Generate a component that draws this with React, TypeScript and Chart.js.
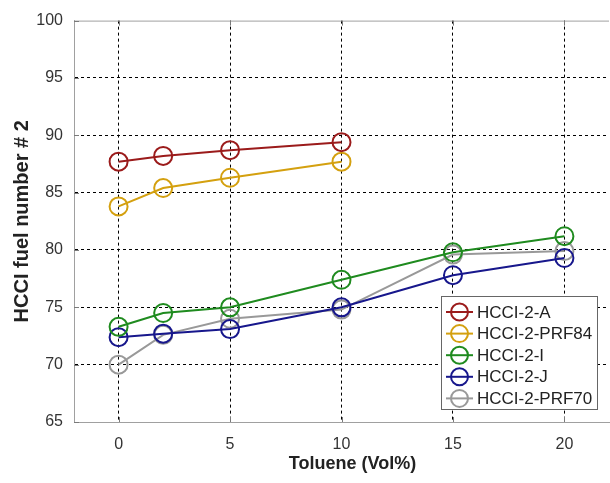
import React, { useEffect, useRef } from 'react';
import { Chart, registerables } from 'chart.js';

Chart.register(...registerables);

// ---- data ----
const tolueneA = [0, 2, 5, 10];
const toluene = [0, 2, 5, 10, 15, 20];
const seriesNames = ['HCCI-2-A', 'HCCI-2-PRF84', 'HCCI-2-I', 'HCCI-2-J', 'HCCI-2-PRF70'];
const hcci2A = [87.7, 88.2, 88.7, 89.4];
const hcci2PRF84 = [83.8, 85.4, 86.3, 87.7];
const hcci2I = [73.3, 74.5, 75.0, 77.4, 79.8, 81.2];
const hcci2J = [72.4, 72.7, 73.1, 75.0, 77.8, 79.3];
const hcci2PRF70 = [70.0, 72.6, 74.0, 74.8, 79.6, 79.9];
const seriesColors = ['#9b1b1b', '#d4a00f', '#1f8b1f', '#17178c', '#999999'];
const xRange = [-2, 22];
const yRange = [65, 100];
const xTitle = 'Toluene (Vol%)';
const yTitle = 'HCCI fuel number # 2';

const FONT = '"Liberation Sans", Arial, sans-serif';

const toPoints = (xs: number[], ys: number[]) => xs.map((x, i) => ({ x, y: ys[i] }));

const overlayPlugin = {
  id: 'overlay',
  afterDraw(chart: any) {
    const { ctx, chartArea } = chart;
    const xs = chart.scales.x;
    const ys = chart.scales.y;
    ctx.save();
    // top border of the axes box
    ctx.strokeStyle = '#a0a0a0';
    ctx.lineWidth = 1;
    ctx.beginPath();
    ctx.moveTo(chartArea.left, chartArea.top + 0.5);
    ctx.lineTo(chartArea.right, chartArea.top + 0.5);
    ctx.stroke();

    // inward tick marks
    ctx.strokeStyle = '#7a7a7a';
    ctx.beginPath();
    xs.ticks.forEach((t: any) => {
      const px = Math.round(xs.getPixelForValue(t.value)) + 0.5;
      ctx.moveTo(px, chartArea.bottom);
      ctx.lineTo(px, chartArea.bottom - 5);
      ctx.moveTo(px, chartArea.top);
      ctx.lineTo(px, chartArea.top + 5);
    });
    ys.ticks.forEach((t: any) => {
      const py = Math.round(ys.getPixelForValue(t.value)) + 0.5;
      ctx.moveTo(chartArea.left, py);
      ctx.lineTo(chartArea.left + 5, py);
    });
    ctx.stroke();

    // x title
    ctx.fillStyle = '#222';
    ctx.font = `bold 18px ${FONT}`;
    ctx.textAlign = 'center';
    ctx.textBaseline = 'middle';
    ctx.fillText(xTitle, xs.getPixelForValue(10) + 11, 464);

    // legend
    const lx = 441.5, ly = 296.5, lw = 156, lh = 113;
    ctx.fillStyle = '#ffffff';
    ctx.fillRect(lx, ly, lw, lh);
    ctx.strokeStyle = '#666';
    ctx.lineWidth = 1;
    ctx.strokeRect(lx, ly, lw, lh);
    ctx.font = `17px ${FONT}`;
    ctx.textAlign = 'left';
    ctx.textBaseline = 'middle';
    seriesNames.forEach((name, i) => {
      const cy = 312 + i * 21.6;
      ctx.strokeStyle = seriesColors[i];
      ctx.lineWidth = 2;
      ctx.beginPath();
      ctx.moveTo(446, cy);
      ctx.lineTo(473, cy);
      ctx.stroke();
      ctx.beginPath();
      ctx.arc(459.5, cy, 8.5, 0, Math.PI * 2);
      ctx.stroke();
      ctx.fillStyle = '#222';
      ctx.fillText(name, 477, cy + 1);
    });
    ctx.restore();
  },
};

export default function App() {
  const ref = useRef<HTMLCanvasElement | null>(null);

  useEffect(() => {
    if (!ref.current) return;
    const series = [
      toPoints(tolueneA, hcci2A),
      toPoints(tolueneA, hcci2PRF84),
      toPoints(toluene, hcci2I),
      toPoints(toluene, hcci2J),
      toPoints(toluene, hcci2PRF70),
    ];
    const chart = new Chart(ref.current, {
      type: 'line',
      data: {
        datasets: series.map((d, i) => ({
          label: seriesNames[i],
          data: d,
          borderColor: seriesColors[i],
          backgroundColor: 'rgba(0,0,0,0)',
          borderWidth: 2,
          pointRadius: 9,
          pointBorderWidth: 2,
          pointBackgroundColor: 'rgba(0,0,0,0)',
          pointBorderColor: seriesColors[i],
          tension: 0,
          fill: false,
        })),
      },
      options: {
        responsive: false,
        animation: false,
        layout: { padding: { top: 15, right: 9, left: 0, bottom: 0 } },
        plugins: { legend: { display: false }, tooltip: { enabled: false } },
        scales: {
          x: {
            type: 'linear',
            min: xRange[0],
            max: xRange[1],
            afterFit: (s: any) => { s.height = 61; },
            ticks: {
              stepSize: 5,
              includeBounds: false,
              font: { size: 16, family: FONT },
              color: '#333',
              padding: 13,
            },
            grid: {
              color: '#000',
              lineWidth: 1,
              drawTicks: false,
            },
            border: { color: '#a0a0a0', width: 1, dash: [3, 3] },
            title: { display: false },
          },
          y: {
            min: yRange[0],
            max: yRange[1],
            afterFit: (s: any) => { s.width = 74; },
            ticks: {
              stepSize: 5,
              font: { size: 16, family: FONT },
              color: '#333',
              padding: 11,
            },
            grid: {
              color: (c: any) =>
                c.tick && (c.tick.value === yRange[0] || c.tick.value === yRange[1]) ? 'rgba(0,0,0,0)' : '#000',
              lineWidth: 1,
              drawTicks: false,
            },
            border: { color: '#a0a0a0', width: 1, dash: [3, 3] },
            title: {
              display: true,
              text: yTitle,
              font: { size: 20, weight: 'bold', family: FONT },
              color: '#222',
              padding: { top: 10, bottom: 0 },
            },
          },
        },
      },
      plugins: [overlayPlugin],
    } as any);
    return () => chart.destroy();
  }, []);

  return (
    <div style={{ position: 'fixed', left: 0, top: 0, width: 610, height: 483, overflow: 'hidden', background: '#fff' }}>
      <canvas ref={ref} width={620} height={483} style={{ display: 'block' }} />
    </div>
  );
}
